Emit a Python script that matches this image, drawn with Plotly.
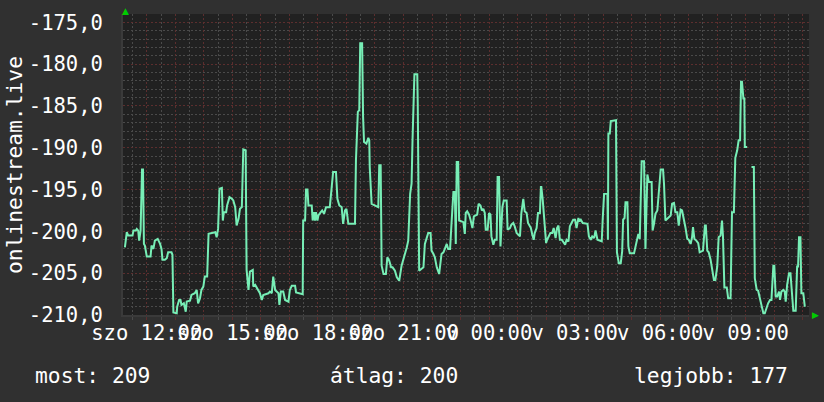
import pandas as pd
import plotly.graph_objects as go

# readings (minutes after Sat 11:10, value) taken off the graph
seg_sat_afternoon = [
    (4, -201.9), (8, -200.1), (11, -200.5), (20, -200.5), (22, -199.9), (27, -199.9), (29, -199.7),
    (32, -199.9), (34, -201.1), (37, -199.9), (40, -192.6), (42, -192.6), (44, -201.5), (46, -201.7),
    (50, -203.0), (58, -203.0), (60, -201.7), (64, -202.1), (67, -201.1), (73, -200.9), (78, -201.5),
    (81, -202.1), (83, -203.4), (88, -203.4), (92, -203.2), (95, -202.5), (102, -202.5), (104, -202.8),
    (106, -209.7), (113, -209.8), (114, -209.0), (118, -208.2), (121, -208.2), (123, -208.8),
    (128, -208.6), (132, -209.6), (134, -208.4), (141, -208.3), (144, -207.6), (151, -207.4),
    (155, -207.0), (158, -208.6), (162, -208.0), (165, -207.0), (169, -206.6), (172, -205.4),
    (177, -205.4), (180, -200.3), (194, -200.1), (197, -200.7), (200, -199.7), (203, -194.9),
    (208, -194.8), (210, -198.7), (212, -197.7), (217, -197.7), (219, -196.9), (224, -195.9),
    (229, -196.1), (232, -196.3), (236, -197.1), (239, -199.3), (243, -198.5), (246, -197.3),
    (250, -197.1), (253, -190.2), (258, -190.3), (260, -204.6), (264, -207.0), (267, -204.8),
    (273, -204.6), (274, -206.6), (278, -206.4), (285, -207.0), (288, -207.4), (292, -208.2),
    (295, -207.6), (306, -207.4), (309, -207.2), (313, -207.4), (316, -205.4), (320, -207.0),
    (323, -207.2), (327, -207.4), (329, -208.8), (332, -207.2), (337, -207.2), (341, -208.2),
    (348, -208.4), (351, -207.0), (355, -206.5), (362, -206.5),
]
seg_sat_evening = [
    (364, -207.3), (378, -207.5), (379, -198.7), (383, -198.7), (385, -195.0), (388, -195.0),
    (390, -196.9), (397, -196.9), (399, -198.7), (402, -197.7), (404, -198.7), (406, -197.7),
    (409, -198.7), (411, -198.1), (416, -197.7), (419, -197.5), (423, -197.9), (427, -197.1),
    (435, -197.1), (439, -194.7), (442, -192.9), (448, -192.9), (451, -196.1), (455, -196.9),
    (460, -197.1), (463, -199.1), (467, -197.5), (470, -197.3), (474, -199.1), (488, -199.1),
    (490, -191.5), (494, -185.7), (497, -185.5), (499, -177.5), (503, -177.5), (505, -186.3),
    (507, -189.3), (512, -189.5), (516, -188.8), (518, -189.1), (519, -192.3), (523, -196.7),
    (537, -197.1), (539, -192.1), (542, -192.1), (544, -204.1), (548, -205.1), (553, -205.1),
    (556, -203.1), (560, -203.5), (564, -204.3), (567, -204.3), (572, -204.7), (576, -205.5),
    (581, -205.9), (586, -204.1), (590, -203.1), (593, -202.7), (597, -201.9), (600, -201.1),
    (604, -195.5), (607, -194.3), (609, -189.1), (613, -181.2), (619, -181.2), (620, -184.7),
    (623, -204.7), (632, -204.3), (635, -201.5), (639, -200.7), (642, -200.2), (647, -200.2),
    (649, -202.3), (653, -202.7), (656, -203.1), (660, -204.3), (665, -205.1), (670, -202.7),
    (674, -202.5), (677, -202.1), (681, -201.5), (684, -202.1), (688, -202.1), (691, -199.1),
    (695, -195.3), (698, -195.3), (700, -201.5), (702, -191.7), (705, -191.7), (707, -198.7),
    (716, -198.9), (719, -200.3),
]
seg_night = [
    (721, -197.8), (724, -197.6), (728, -198.0), (731, -198.6), (735, -199.6), (738, -198.2),
    (745, -198.0), (748, -196.7), (752, -196.9), (755, -197.5), (758, -197.3), (761, -197.8),
    (763, -199.8), (767, -199.8), (770, -197.8), (773, -198.0), (775, -200.6), (779, -201.6),
    (782, -201.0), (786, -201.0), (788, -193.5), (791, -193.5), (794, -201.8), (798, -197.1),
    (801, -196.3), (807, -196.3), (809, -199.8), (814, -199.6), (817, -199.2), (821, -199.0),
    (824, -199.4), (828, -200.2), (835, -200.6), (838, -197.8), (841, -196.1), (842, -196.1),
    (845, -197.6), (849, -197.8), (852, -199.0), (856, -199.4), (858, -199.6), (861, -200.4),
    (864, -201.0), (866, -200.2), (870, -199.6), (873, -197.8), (877, -197.8), (879, -194.7),
    (880, -194.7), (883, -196.3), (885, -198.0), (890, -201.4), (892, -201.0), (896, -200.6),
    (899, -200.2), (903, -200.2), (906, -199.6), (910, -200.8), (913, -199.6), (916, -199.3),
    (919, -201.0), (923, -201.0), (926, -201.2), (930, -201.6), (933, -201.0), (937, -201.2),
    (940, -199.4), (944, -199.0), (947, -198.6), (951, -198.6), (954, -199.6), (958, -198.4),
    (960, -198.8), (963, -198.6), (967, -199.0), (977, -199.1), (980, -200.6), (984, -201.0),
    (987, -200.6), (991, -200.8), (994, -199.9), (998, -201.0), (1007, -201.2), (1009, -198.6),
    (1012, -195.5), (1019, -195.4), (1020, -201.0), (1021, -188.3), (1024, -188.3), (1026, -186.8),
    (1037, -186.7), (1039, -202.5), (1043, -203.8), (1047, -203.8), (1050, -202.4), (1052, -198.6),
    (1055, -198.4), (1057, -196.5), (1061, -196.5), (1063, -201.8), (1066, -202.6), (1075, -202.6),
]
seg_sun_morning = [
    (1077, -202.1), (1080, -201.1), (1084, -200.3), (1087, -200.9), (1091, -191.6), (1096, -191.6),
    (1099, -202.1), (1103, -193.2), (1106, -194.1), (1112, -194.1), (1114, -199.9), (1117, -199.1),
    (1120, -197.9), (1124, -197.5), (1128, -194.9), (1131, -192.6), (1136, -192.6), (1138, -194.3),
    (1141, -198.7), (1145, -198.5), (1149, -198.3), (1152, -198.1), (1155, -196.7), (1159, -196.6),
    (1162, -197.7), (1166, -197.7), (1169, -199.3), (1173, -197.4), (1176, -197.5), (1180, -198.5),
    (1183, -199.5), (1187, -200.9), (1190, -201.0), (1194, -201.5), (1197, -200.7), (1199, -199.5),
    (1202, -200.9), (1206, -201.1), (1210, -201.4), (1213, -202.5), (1220, -202.3), (1224, -199.3),
    (1226, -199.3), (1229, -202.3), (1232, -202.5), (1236, -203.4), (1239, -204.6), (1243, -205.8),
    (1246, -205.8), (1250, -204.2), (1253, -200.7), (1257, -200.5), (1260, -198.7), (1262, -200.5),
    (1265, -206.7), (1270, -206.7), (1273, -208.0), (1278, -208.0), (1281, -197.7), (1285, -197.7),
    (1288, -191.2), (1292, -190.3), (1295, -189.1), (1298, -189.1), (1300, -182.1), (1302, -182.1),
    (1305, -184.1), (1307, -184.1), (1308, -189.9), (1313, -189.9), (1317, None), (1322, -192.3),
    (1327, -192.3), (1329, -205.6), (1333, -207.0), (1336, -207.1), (1340, -208.2), (1343, -209.0),
    (1347, -209.8), (1350, -209.8), (1354, -209.0), (1357, -208.6), (1361, -208.2), (1364, -208.2),
    (1368, -204.1), (1370, -204.1), (1373, -207.8), (1376, -207.8), (1380, -207.2), (1382, -208.2),
    (1385, -207.2), (1389, -207.0), (1392, -207.2), (1394, -208.4), (1397, -206.4), (1401, -205.0),
    (1404, -205.0), (1406, -206.2), (1410, -209.5), (1415, -209.5), (1418, -204.2), (1420, -204.2),
    (1422, -200.7), (1425, -200.7), (1427, -207.4), (1431, -207.4), (1434, -208.9), (1436, -208.9),
]

start = pd.Timestamp("2024-01-13 11:10")
span_minutes = 1443
y_ticks = [-210, -205, -200, -195, -190, -185, -180, -175]
x_labels = ["szo 12:00", "szo 15:00", "szo 18:00", "szo 21:00",
            "v 00:00", "v 03:00", "v 06:00", "v 09:00"]
stats = [("most", 209), ("átlag", 200), ("legjobb", 177)]
series_name = "onlinestream.live"

points = seg_sat_afternoon + seg_sat_evening + seg_night + seg_sun_morning
times = [start + pd.Timedelta(minutes=m) for m, _ in points]
values = [v for _, v in points]

hours = pd.date_range("2024-01-13 12:00", "2024-01-14 11:00", freq="h")
hour_text = [x_labels[i // 3] if i % 3 == 0 else "" for i in range(len(hours))]

BG = "#303030"
PLOT_BG = "#212121"
MAJOR = "#5c2e2e"
MINOR = "#4a4a4a"
FONT = "DejaVu Sans Mono"
TICK_FONT = dict(family=FONT, size=20.5, color="#ffffff")
TEXT_FONT = dict(family=FONT, size=21.3, color="#ffffff")

# plot box in pixels
PL, PR, PT, PB = 123, 809, 14, 315
W, H = 824, 402


def px_x(x):
    return (x - PL) / (PR - PL)


def px_y(y):
    return (PB - y) / (PB - PT)


fig = go.Figure()
fig.add_trace(go.Scatter(
    x=times, y=values, mode="lines",
    line=dict(color="#77eeb6", width=2),
    connectgaps=False, hoverinfo="skip"
))

fig.update_xaxes(
    type="date",
    range=[start, start + pd.Timedelta(minutes=span_minutes)],
    tickmode="array", tickvals=hours, ticktext=hour_text, tickangle=0,
    showgrid=True, gridcolor=MAJOR, griddash="2px,2px", gridwidth=1,
    ticks="outside", ticklen=3, tickcolor=MAJOR, ticklabelstandoff=-5,
    minor=dict(tickmode="linear", tick0="2024-01-13 11:30", dtick=30 * 60 * 1000,
               showgrid=True, gridcolor=MINOR, griddash="2px,2px",
               ticks="outside", ticklen=3, tickcolor=MINOR),
    showline=True, linecolor="#3a3a3a", linewidth=2,
    zeroline=False, fixedrange=True,
    tickfont=TICK_FONT,
)
fig.update_yaxes(
    range=[-210, -174],
    tickmode="array", tickvals=y_ticks,
    ticktext=[f"{v:.1f}".replace(".", ",") for v in y_ticks],
    showgrid=True, gridcolor=MAJOR, griddash="2px,2px", gridwidth=1,
    ticks="", ticklabelstandoff=14,
    minor=dict(tickmode="linear", tick0=-210, dtick=1,
               showgrid=True, gridcolor=MINOR, griddash="2px,2px"),
    showline=True, linecolor="#3a3a3a", linewidth=2,
    zeroline=False, fixedrange=True,
    tickfont=TICK_FONT,
)

annotations = [
    dict(text=series_name, textangle=-90, x=px_x(14), y=px_y(165),
         xanchor="center", yanchor="middle", showarrow=False),
    dict(text=f"{stats[0][0]}: {stats[0][1]}", x=px_x(33), y=px_y(375),
         xanchor="left", yanchor="middle", showarrow=False),
    dict(text=f"{stats[1][0]}: {stats[1][1]}", x=px_x(328), y=px_y(375),
         xanchor="left", yanchor="middle", showarrow=False),
    dict(text=f"{stats[2][0]}: {stats[2][1]}", x=px_x(790), y=px_y(375),
         xanchor="right", yanchor="middle", showarrow=False),
    dict(text="▲", x=px_x(125), y=px_y(11), xanchor="center", yanchor="middle",
         showarrow=False, font=dict(color="#00cc00", size=9, family="DejaVu Sans")),
    dict(text="▶", x=px_x(815), y=px_y(315), xanchor="center", yanchor="middle",
         showarrow=False, font=dict(color="#00cc00", size=9, family="DejaVu Sans")),
]
for a in annotations:
    a.setdefault("font", TEXT_FONT)
    a["xref"] = "paper"
    a["yref"] = "paper"

fig.update_layout(
    width=W, height=H,
    margin=dict(l=PL, r=W - PR, t=PT, b=H - PB),
    paper_bgcolor=BG, plot_bgcolor=PLOT_BG,
    showlegend=False,
    annotations=annotations,
    font=dict(family=FONT, size=20, color="#ffffff"),
)

fig.write_html("out.html", config={"displayModeBar": False},
               post_script="document.body.style.margin='0px';")
